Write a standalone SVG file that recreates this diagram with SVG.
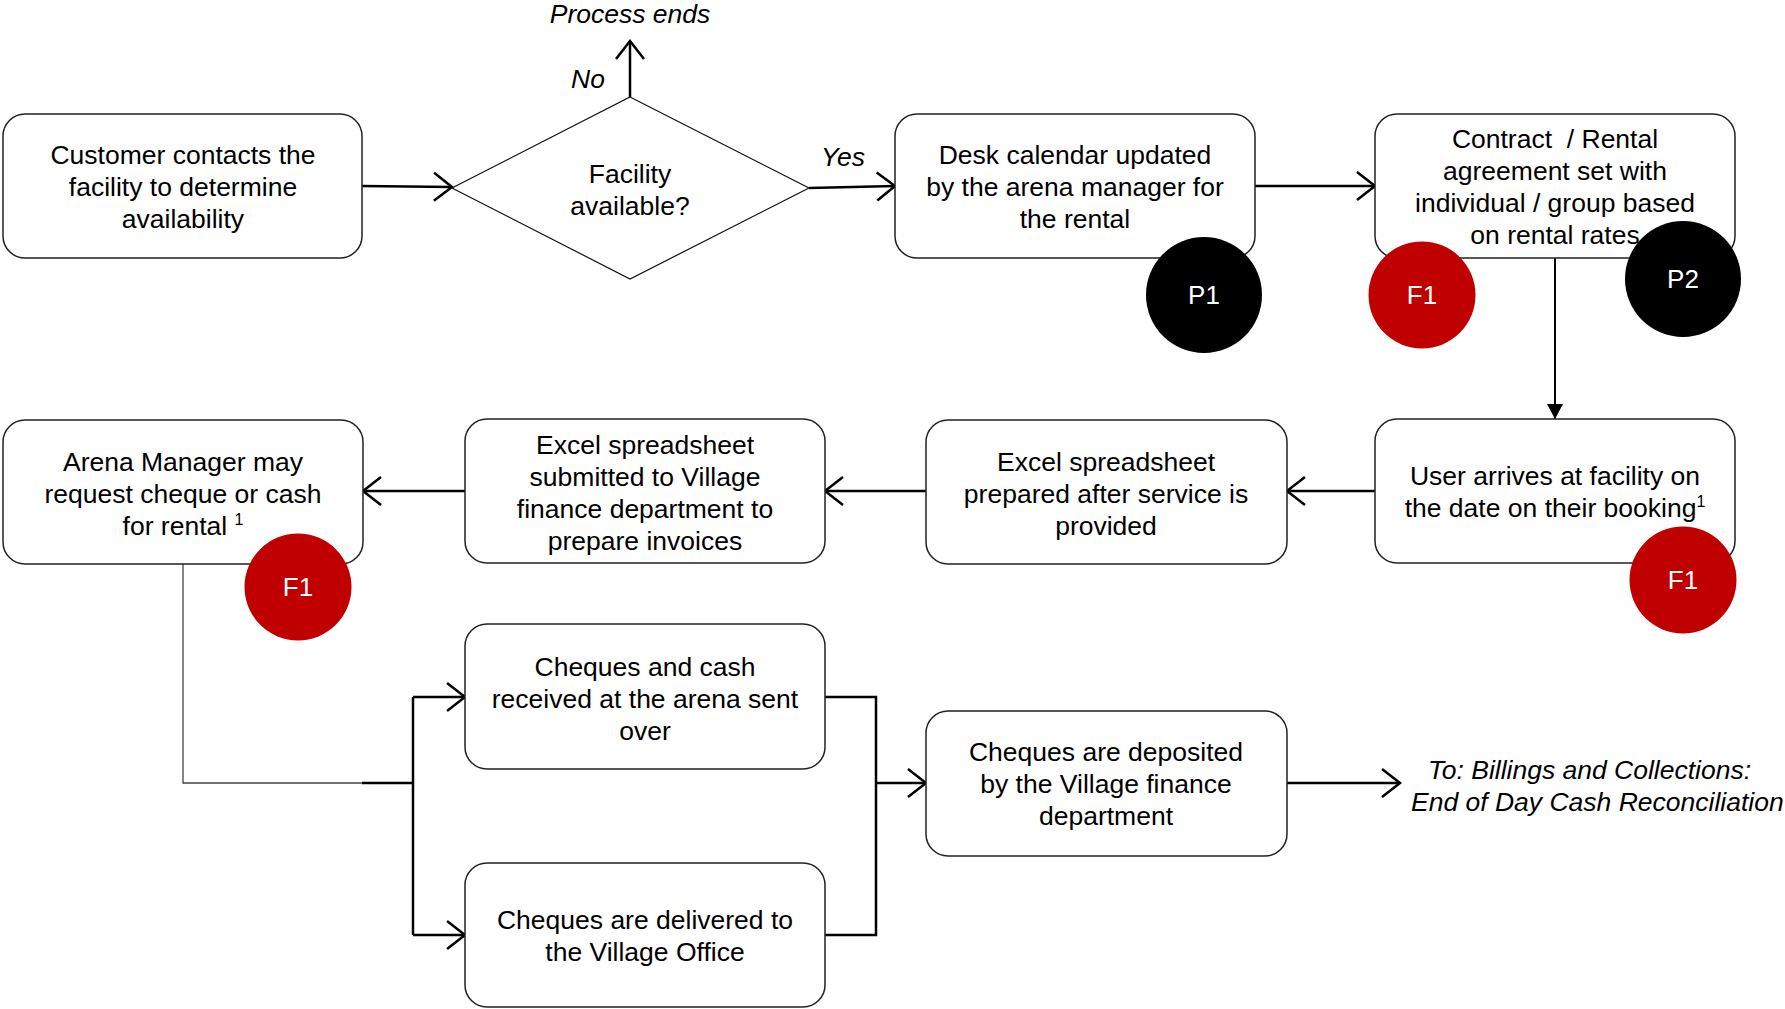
<svg xmlns="http://www.w3.org/2000/svg" width="1785" height="1009" viewBox="0 0 1785 1009">
<style>
.box{fill:#fff;stroke:#222;stroke-width:1.5}
.dia{fill:#fff;stroke:#111;stroke-width:1.2}
.t{font-family:"Liberation Sans",Arial,sans-serif;font-size:26.5px;fill:#000;text-anchor:middle}
.i{font-family:"Liberation Sans",Arial,sans-serif;font-size:26.5px;font-style:italic;fill:#000}
.ct{font-family:"Liberation Sans",Arial,sans-serif;font-size:26px;fill:#fff;text-anchor:middle}
.c{fill:none;stroke:#000;stroke-width:2.5}
.thin{fill:none;stroke:#444;stroke-width:1.3}
.cv{fill:none;stroke:#000;stroke-width:2.5}
.sup{font-size:16px}
.red{fill:#C00000}
.blk{fill:#000}
</style>
<defs>
<marker id="open" markerUnits="userSpaceOnUse" markerWidth="40" markerHeight="40" viewBox="-20 -20 40 40" refX="0" refY="0" orient="auto" overflow="visible">
<path class="cv" d="M-18,-14 L0,0 L-18,14"/>
</marker>
<marker id="fill" markerUnits="userSpaceOnUse" markerWidth="40" markerHeight="40" viewBox="-20 -20 40 40" refX="0" refY="0" orient="auto" overflow="visible">
<path d="M-15,-8 L0,0 L-15,8 Z" fill="#000"/>
</marker>
</defs>

<g id="connectors">
<path class="c" d="M362,186 L452,187" marker-end="url(#open)"/>
<path class="c" d="M630,97 V41" marker-end="url(#open)"/>
<path class="c" d="M809,188 L895,186" marker-end="url(#open)"/>
<path class="c" d="M1255,186 H1375" marker-end="url(#open)"/>
<path fill="none" stroke="#000" stroke-width="2" d="M1555,258 V419" marker-end="url(#fill)"/>
<path class="c" d="M1375,491 H1287" marker-end="url(#open)"/>
<path class="c" d="M926,491 H825" marker-end="url(#open)"/>
<path class="c" d="M465,491 H363" marker-end="url(#open)"/>
<path class="thin" d="M183,564 V783 H362"/>
<path class="c" d="M362,783 H413"/>
<path class="c" d="M413,697 V935"/>
<path class="c" d="M413,697 H465" marker-end="url(#open)"/>
<path class="c" d="M413,935 H465" marker-end="url(#open)"/>
<path class="c" d="M825,697 H876 V935 H825"/>
<path class="c" d="M876,783 H926" marker-end="url(#open)"/>
<path class="c" d="M1287,783 H1400" marker-end="url(#open)"/>
<text class="i" x="630" y="23" text-anchor="middle">Process ends</text>
<text class="i" x="588" y="88" text-anchor="middle">No</text>
<text class="i" x="843" y="166" text-anchor="middle">Yes</text>
</g>

<g id="n-customer">
<rect class="box" x="3" y="114" width="359" height="144" rx="22"/>
<text class="t" x="183" y="164">Customer contacts the</text>
<text class="t" x="183" y="196">facility to determine</text>
<text class="t" x="183" y="228">availability</text>
</g>

<g id="n-facility">
<polygon class="dia" points="630,97 809,188 630,279 452,188"/>
<text class="t" x="630" y="183">Facility</text>
<text class="t" x="630" y="215">available?</text>
</g>

<g id="n-desk">
<rect class="box" x="895" y="114" width="360" height="144" rx="22"/>
<text class="t" x="1075" y="164">Desk calendar updated</text>
<text class="t" x="1075" y="196">by the arena manager for</text>
<text class="t" x="1075" y="228">the rental</text>
</g>

<g id="n-contract">
<rect class="box" x="1375" y="114" width="360" height="144" rx="22"/>
<text class="t" x="1555" y="148" xml:space="preserve">Contract  / Rental</text>
<text class="t" x="1555" y="180">agreement set with</text>
<text class="t" x="1555" y="212">individual / group based</text>
<text class="t" x="1555" y="244">on rental rates</text>
</g>

<g id="n-user">
<rect class="box" x="1375" y="419" width="360" height="144" rx="22"/>
<text class="t" x="1555" y="485">User arrives at facility on</text>
<text class="t" x="1555" y="517">the date on their booking<tspan class="sup" dy="-10">1</tspan></text>
</g>

<g id="n-excel-prepared">
<rect class="box" x="926" y="420" width="361" height="144" rx="22"/>
<text class="t" x="1106" y="471">Excel spreadsheet</text>
<text class="t" x="1106" y="503">prepared after service is</text>
<text class="t" x="1106" y="535">provided</text>
</g>

<g id="n-excel-submitted">
<rect class="box" x="465" y="419" width="360" height="144" rx="22"/>
<text class="t" x="645" y="454">Excel spreadsheet</text>
<text class="t" x="645" y="486">submitted to Village</text>
<text class="t" x="645" y="518">finance department to</text>
<text class="t" x="645" y="550">prepare invoices</text>
</g>

<g id="n-arena">
<rect class="box" x="3" y="420" width="360" height="144" rx="22"/>
<text class="t" x="183" y="471">Arena Manager may</text>
<text class="t" x="183" y="503">request cheque or cash</text>
<text class="t" x="183" y="535">for rental <tspan class="sup" dy="-10">1</tspan></text>
</g>

<g id="n-cheques-cash">
<rect class="box" x="465" y="624" width="360" height="145" rx="22"/>
<text class="t" x="645" y="676">Cheques and cash</text>
<text class="t" x="645" y="708">received at the arena sent</text>
<text class="t" x="645" y="740">over</text>
</g>

<g id="n-cheques-delivered">
<rect class="box" x="465" y="863" width="360" height="144" rx="22"/>
<text class="t" x="645" y="929">Cheques are delivered to</text>
<text class="t" x="645" y="961">the Village Office</text>
</g>

<g id="n-deposited">
<rect class="box" x="926" y="711" width="361" height="145" rx="22"/>
<text class="t" x="1106" y="761">Cheques are deposited</text>
<text class="t" x="1106" y="793">by the Village finance</text>
<text class="t" x="1106" y="825">department</text>
</g>

<g id="n-to-billings">
<text class="i" x="1428" y="779">To: Billings and Collections:</text>
<text class="i" x="1411" y="811">End of Day Cash Reconciliation</text>
</g>

<g id="badge-p1"><circle class="blk" cx="1204" cy="295" r="58"/><text class="ct" x="1204" y="304">P1</text></g>
<g id="badge-f1-contract"><circle class="red" cx="1422" cy="295" r="53.5"/><text class="ct" x="1422" y="304">F1</text></g>
<g id="badge-p2"><circle class="blk" cx="1683" cy="279" r="58"/><text class="ct" x="1683" y="288">P2</text></g>
<g id="badge-f1-arena"><circle class="red" cx="298" cy="587" r="53.5"/><text class="ct" x="298" y="596">F1</text></g>
<g id="badge-f1-user"><circle class="red" cx="1683" cy="580" r="53.5"/><text class="ct" x="1683" y="589">F1</text></g>
</svg>
